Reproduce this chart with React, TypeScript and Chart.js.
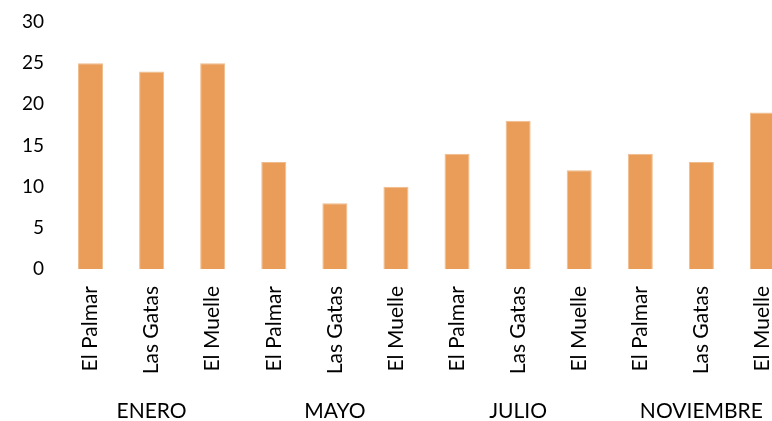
import React, { useEffect, useRef } from "react";
import { Chart, registerables } from "chart.js";

Chart.register(...registerables);

const groups = ["ENERO", "MAYO", "JULIO", "NOVIEMBRE"];
const sites = ["El Palmar", "Las Gatas", "El Muelle"];
const eneroValues = [25, 24, 25];
const mayoValues = [13, 8, 10];
const julioValues = [14, 18, 12];
const noviembreValues = [14, 13, 19];
const yTicks = [0, 5, 10, 15, 20, 25, 30];

const FONT = "Lato, 'Liberation Sans', sans-serif";

export default function App() {
  const ref = useRef<HTMLCanvasElement | null>(null);

  useEffect(() => {
    if (!ref.current) return;
    const labels: string[] = [];
    groups.forEach(() => sites.forEach((s) => labels.push(s)));
    const values = [...eneroValues, ...mayoValues, ...julioValues, ...noviembreValues];

    const chart = new Chart(ref.current, {
      type: "bar",
      data: {
        labels,
        datasets: [
          {
            data: values,
            backgroundColor: "#E99D59",
            borderColor: "#F0BB8A",
            borderWidth: 1,
            barPercentage: 0.82,
            categoryPercentage: 0.5,
            xAxisID: "x",
          },
        ],
      },
      options: {
        animation: false,
        responsive: false,
        maintainAspectRatio: false,
        layout: { padding: { left: 0, top: 22, right: 0, bottom: 0 } },
        plugins: { legend: { display: false }, tooltip: { enabled: false } },
        scales: {
          x: {
            type: "category",
            position: "bottom",
            grid: { display: false, drawTicks: false },
            border: { display: false },
            afterFit: (s: any) => {
              s.paddingLeft = 0;
              s.paddingRight = 0;
              s.height = 112;
            },
            ticks: {
              color: "#000",
              font: { family: FONT, size: 21 },
              maxRotation: 90,
              minRotation: 90,
              padding: 17,
              autoSkip: false,
            },
          },
          x2: {
            type: "category",
            position: "bottom",
            labels: groups,
            grid: { display: false, drawTicks: false },
            border: { display: false },
            afterFit: (s: any) => {
              s.paddingLeft = 0;
              s.paddingRight = 0;
              s.height = 40;
            },
            ticks: {
              color: "#000",
              font: { family: FONT, size: 21 },
              maxRotation: 0,
              minRotation: 0,
              padding: 18,
              autoSkip: false,
            },
          },
          y: {
            min: 0,
            max: 30,
            grid: { display: false, drawTicks: false },
            border: { display: false },
            afterBuildTicks: (scale: any) => {
              scale.ticks = yTicks.map((v) => ({ value: v }));
            },
            afterFit: (s: any) => {
              s.width = 60;
              s.paddingTop = 0;
              s.paddingBottom = 0;
            },
            ticks: {
              color: "#000",
              font: { family: FONT, size: 19 },
              padding: 16,
            },
          },
        },
      },
    });
    return () => chart.destroy();
  }, []);

  return (
    <div
      style={{
        position: "absolute",
        left: 0,
        top: 0,
        width: 772,
        height: 421,
        overflow: "hidden",
        background: "#fff",
      }}
    >
      <canvas ref={ref} width={793} height={421} style={{ display: "block" }} />
    </div>
  );
}
